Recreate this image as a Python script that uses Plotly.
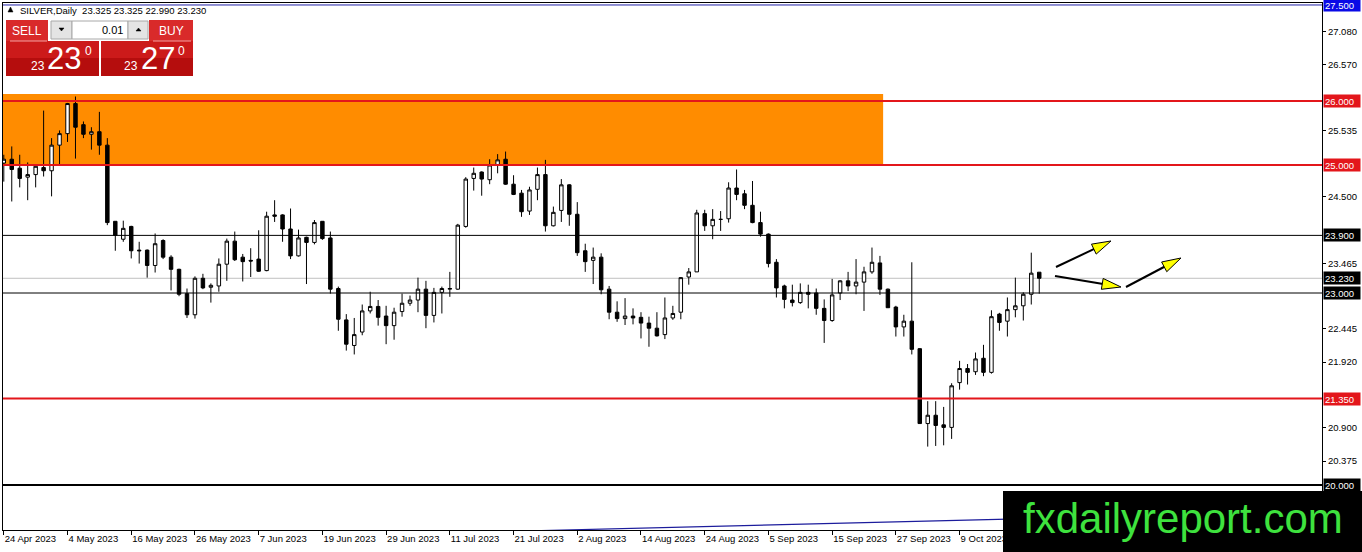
import pandas as pd
import plotly.graph_objects as go

# daily bars, 24 Apr 2023 .. 23 Oct 2023 (weekdays)
dates = [d.strftime("%Y-%m-%d") for d in pd.bdate_range("2023-04-24", periods=131)]

opens = [25.03, 25.09, 24.95, 24.81, 24.85, 24.96, 24.91, 25.31, 25.49, 25.96,
         25.63, 25.48, 25.52, 25.31, 24.12, 23.84, 24.04, 23.67, 23.67, 23.43,
         23.82, 23.56, 23.37, 22.99, 22.66, 23.23, 23.09, 23.11, 23.45, 23.81,
         23.56, 23.51, 23.53, 23.35, 24.22, 24.22, 24.00, 23.58, 23.87, 23.79,
         24.12, 23.86, 23.07, 22.58, 22.18, 22.39, 22.72, 22.79, 22.64, 22.49,
         22.71, 22.84, 22.89, 23.06, 22.65, 23.01, 23.06, 23.06, 24.04, 24.79,
         24.89, 24.77, 25.00, 25.09, 24.70, 24.56, 24.28, 24.62, 24.85, 24.05,
         24.29, 24.69, 24.23, 23.66, 23.51, 23.56, 23.06, 22.70, 22.60, 22.64,
         22.62, 22.53, 22.45, 22.35, 22.61, 22.70, 23.25, 23.33, 24.24, 24.05,
         24.15, 24.16, 24.64, 24.55, 24.37, 24.10, 23.92, 23.48, 23.11, 22.89,
         22.85, 23.01, 23.00, 22.76, 22.57, 23.00, 23.19, 23.11, 23.17, 23.33,
         23.47, 23.06, 22.78, 22.47, 22.56, 22.13, 20.96, 21.09, 20.94, 20.90,
         21.60, 21.82, 21.77, 21.98, 21.76, 22.67, 22.56, 22.74, 22.80, 22.98,
         23.325]
highs = [25.16, 25.29, 25.16, 25.04, 24.99, 25.85, 25.42, 25.54, 25.97, 26.07,
         25.68, 25.59, 25.83, 25.42, 24.12, 24.13, 24.05, 23.80, 23.68, 23.93,
         23.84, 23.59, 23.38, 23.07, 23.26, 23.30, 23.15, 23.54, 23.85, 23.96,
         23.61, 23.70, 23.98, 24.27, 24.45, 24.23, 24.32, 23.99, 23.88, 24.14,
         24.12, 23.96, 23.10, 22.67, 22.61, 22.82, 23.02, 22.89, 22.80, 22.77,
         22.99, 22.96, 23.24, 23.19, 23.08, 23.10, 23.33, 24.08, 24.81, 24.96,
         24.90, 25.09, 25.17, 25.21, 24.84, 24.61, 24.66, 24.96, 25.08, 24.35,
         24.78, 24.70, 24.42, 23.77, 23.71, 23.62, 23.11, 22.87, 22.92, 22.76,
         22.70, 22.63, 22.70, 22.93, 22.80, 23.25, 23.39, 24.30, 24.30, 24.31,
         24.28, 24.73, 24.93, 24.61, 24.75, 24.27, 23.93, 23.53, 23.13, 23.13,
         23.15, 23.13, 23.07, 22.90, 23.22, 23.20, 23.33, 23.53, 23.41, 23.71,
         23.58, 23.07, 22.80, 22.66, 23.48, 22.14, 21.31, 21.31, 21.22, 21.59,
         21.94, 21.89, 22.07, 22.19, 22.73, 22.69, 22.93, 23.24, 23.01, 23.63,
         23.325]
lows = [24.74, 24.43, 24.65, 24.45, 24.65, 24.82, 24.51, 25.00, 25.36, 25.10,
        25.42, 25.24, 25.16, 24.06, 23.66, 23.80, 23.54, 23.46, 23.24, 23.32,
        23.53, 23.04, 22.95, 22.61, 22.60, 23.06, 22.85, 23.02, 23.19, 23.50,
        23.18, 23.25, 23.33, 23.34, 24.11, 23.80, 23.53, 23.57, 23.14, 23.76,
        23.83, 22.99, 22.41, 22.10, 22.04, 22.34, 22.68, 22.49, 22.20, 22.27,
        22.63, 22.80, 22.70, 22.45, 22.54, 22.68, 22.94, 23.05, 24.02, 24.60,
        24.52, 24.70, 24.87, 24.69, 24.53, 24.19, 24.22, 24.45, 23.96, 24.04,
        24.11, 24.05, 23.58, 23.33, 23.14, 22.98, 22.59, 22.55, 22.50, 22.51,
        22.29, 22.16, 22.32, 22.28, 22.58, 22.59, 23.13, 23.33, 23.97, 23.84,
        23.97, 24.10, 24.45, 24.31, 24.09, 23.88, 23.40, 22.93, 22.76, 22.79,
        22.83, 22.76, 22.66, 22.22, 22.55, 22.89, 23.03, 22.98, 22.72, 23.30,
        22.97, 22.77, 22.32, 22.32, 22.04, 20.96, 20.60, 20.61, 20.62, 20.72,
        21.49, 21.57, 21.72, 21.70, 21.74, 22.41, 22.32, 22.62, 22.57, 22.82,
        22.99]
closes = [25.09, 24.93, 24.79, 24.85, 24.98, 24.91, 25.31, 25.49, 25.96, 25.59,
          25.48, 25.52, 25.31, 24.10, 23.90, 24.01, 23.66, 23.66, 23.43, 23.77,
          23.56, 23.37, 22.98, 22.66, 23.23, 23.08, 23.12, 23.45, 23.81, 23.52,
          23.49, 23.50, 23.34, 24.20, 24.20, 24.00, 23.58, 23.86, 23.79, 24.10,
          23.85, 23.06, 22.59, 22.20, 22.35, 22.72, 22.79, 22.62, 22.49, 22.70,
          22.84, 22.89, 23.06, 22.65, 23.01, 23.07, 23.07, 24.06, 24.78, 24.87,
          24.78, 25.00, 25.08, 24.70, 24.54, 24.27, 24.61, 24.85, 24.05, 24.26,
          24.69, 24.23, 23.63, 23.49, 23.56, 23.05, 22.70, 22.60, 22.64, 22.61,
          22.53, 22.45, 22.33, 22.61, 22.68, 23.24, 23.33, 24.25, 24.05, 24.15,
          24.15, 24.64, 24.54, 24.37, 24.10, 23.92, 23.46, 23.08, 22.90, 22.85,
          23.01, 22.98, 22.76, 22.57, 22.97, 23.19, 23.11, 23.17, 23.33, 23.48,
          23.06, 22.77, 22.47, 22.56, 22.12, 20.96, 21.09, 20.93, 20.90, 21.55,
          21.82, 21.76, 21.97, 21.76, 22.63, 22.54, 22.74, 22.80, 22.98, 23.31,
          23.23]

# slow indicator line near the bottom edge (first / last bar)
ma_dates = [dates[0], dates[-1]]
ma_values = [19.08, 19.48]

tick_dates = dates[0:121:8]
tick_labels = ["24 Apr 2023", "4 May 2023", "16 May 2023", "26 May 2023", "7 Jun 2023",
               "19 Jun 2023", "29 Jun 2023", "11 Jul 2023", "21 Jul 2023", "2 Aug 2023",
               "14 Aug 2023", "24 Aug 2023", "5 Sep 2023", "15 Sep 2023", "27 Sep 2023",
               "9 Oct 2023"]
price_ticks = [27.080, 26.570, 25.535, 24.500, 23.465, 22.445,
               21.920, 20.900, 20.375]

red_levels = [26.0, 25.0, 21.35]
black_levels = [23.9, 23.0]
top_level = 27.5
bottom_level = 20.0
bid = closes[-1]
zone_top, zone_bottom, zone_end = 26.11, 25.0, 110.4

RED = "#e3161b"
FONT = "Liberation Sans"

# pixel frame of the plot area, used for overlay drawings
L, R, T, B = 3, 1322, 3, 530


def fx(x):
    return (x - L) / (R - L)


def fy(y):
    return (B - y) / (B - T)


fig = go.Figure()
fig.add_trace(go.Candlestick(
    x=dates, open=opens, high=highs, low=lows, close=closes,
    increasing=dict(line=dict(color="black", width=1), fillcolor="white"),
    decreasing=dict(line=dict(color="black", width=1), fillcolor="black"),
    whiskerwidth=0, hoverinfo="skip", showlegend=False))
fig.add_trace(go.Scatter(x=ma_dates, y=ma_values, mode="lines",
                         line=dict(color="#1c1c9c", width=1.2),
                         hoverinfo="skip", showlegend=False, cliponaxis=True))

shapes = []
# orange zone (behind candles)
shapes.append(dict(type="rect", xref="x", yref="y", x0=-5, x1=zone_end,
                   y0=zone_bottom, y1=zone_top, fillcolor="#ff8c00",
                   line=dict(width=0), layer="below"))
# bid line
shapes.append(dict(type="line", xref="paper", yref="y", x0=0, x1=1, y0=bid, y1=bid,
                   line=dict(color="#c0c0c0", width=1), layer="below"))


def hline(level, color, width):
    shapes.append(dict(type="line", xref="paper", yref="y", x0=0, x1=1,
                       y0=level, y1=level, line=dict(color=color, width=width)))


for lv in red_levels:
    hline(lv, RED, 2)
for lv in black_levels:
    hline(lv, "black", 1)
hline(top_level, "#2222a8", 1)
hline(bottom_level, "black", 2)


def rect(x0, y0, x1, y1, fill, line_color=None):
    shapes.append(dict(type="rect", xref="paper", yref="paper",
                       x0=fx(x0), x1=fx(x1), y0=fy(y1), y1=fy(y0), fillcolor=fill,
                       line=dict(color=line_color or fill, width=1 if line_color else 0),
                       layer="above"))


def poly(points, fill, line_color="black", width=1):
    path = "M " + " L ".join(f"{fx(x):.5f},{fy(y):.5f}" for x, y in points) + " Z"
    shapes.append(dict(type="path", xref="paper", yref="paper", path=path,
                       fillcolor=fill, line=dict(color=line_color, width=width),
                       layer="above"))


def arrow(x0, y0, x1, y1):
    dx, dy = x1 - x0, y1 - y0
    n = (dx * dx + dy * dy) ** 0.5
    ux, uy = dx / n, dy / n
    bx, by = x1 - 19 * ux, y1 - 19 * uy
    shapes.append(dict(type="line", xref="paper", yref="paper",
                       x0=fx(x0), y0=fy(y0), x1=fx(bx + 4 * ux), y1=fy(by + 4 * uy),
                       line=dict(color="black", width=2), layer="above"))
    poly([(x1, y1), (bx - 5.5 * uy, by + 5.5 * ux), (bx + 5.5 * uy, by - 5.5 * ux)],
         "#ffff00")


arrow(1056, 267, 1111, 241)
arrow(1055, 276, 1121, 287)
arrow(1126, 287, 1181, 258)

# trade panel, top left
poly([(8, 12), (13, 12), (10.5, 7)], "black", "black", 0.5)
rect(6, 20, 48, 41, "#d92a2a")
rect(6, 41, 99, 58, "#cc1a1a")
rect(6, 58, 99, 76, "#b50d0d")
rect(149, 20, 193, 41, "#d92a2a")
rect(101, 41, 193, 58, "#cc1a1a")
rect(101, 58, 193, 76, "#b50d0d")
shapes.append(dict(type="line", xref="paper", yref="paper", x0=fx(10), x1=fx(47),
                   y0=fy(41), y1=fy(41), line=dict(color="#f3a0a0", width=1), layer="above"))
shapes.append(dict(type="line", xref="paper", yref="paper", x0=fx(153), x1=fx(191),
                   y0=fy(41), y1=fy(41), line=dict(color="#f3a0a0", width=1), layer="above"))
rect(51, 21, 72, 39, "#e4e4e4", "#a8a8a8")
rect(72, 21, 128, 39, "white", "#a8a8a8")
rect(128, 21, 148, 39, "#e4e4e4", "#a8a8a8")
poly([(59, 28), (64, 28), (61.5, 31)], "black", "black", 0.5)
poly([(136, 31), (141, 31), (138.5, 28)], "black", "black", 0.5)

# logo box, bottom right
rect(1003, 491, 1370, 560, "black")

fig.update_layout(shapes=shapes)

ann = []


def text(x, y, s, size, color="black", anchor="center"):
    ann.append(dict(x=fx(x), y=fy(y), xref="paper", yref="paper", text=s,
                    showarrow=False, xanchor=anchor, yanchor="middle",
                    font=dict(family=FONT, size=size, color=color)))


o, h, l, c = opens[-1], highs[-1], lows[-1], closes[-1]
text(18, 10, f"SILVER,Daily  {o:.3f} {h:.3f} {l:.3f} {c:.3f}", 9.5, anchor="left")
text(27, 31, "SELL", 12, "white")
text(171, 31, "BUY", 12, "white")
text(125, 30, "0.01", 11, anchor="right")
text(38, 66, "23", 12, "white")
text(64, 59, "23", 31, "white")
text(88, 51, "0", 12, "white")
text(131, 66, "23", 12, "white")
text(158, 59, "27", 31, "white")
text(181, 51, "0", 12, "white")
text(1183, 518, "fxdailyreport.com", 42, "#3ee23e")


def price_label(level, bg):
    ann.append(dict(x=1, xref="paper", y=level, yref="y", text=f"{level:.3f}",
                    showarrow=False, xanchor="left", yanchor="middle", xshift=1,
                    bgcolor=bg, borderpad=1, width=34, height=10, align="left",
                    font=dict(family=FONT, size=9.5, color="white")))


for lv in red_levels:
    price_label(lv, RED)
for lv in black_levels:
    price_label(lv, "black")
price_label(bid, "black")
price_label(bottom_level, "black")
price_label(top_level, "#0a0ae6")

fig.update_layout(
    annotations=ann,
    width=1362, height=552,
    margin=dict(l=L, r=1362 - R, t=T, b=552 - B, autoexpand=False),
    paper_bgcolor="white", plot_bgcolor="white",
    boxgap=0.38,
    font=dict(family=FONT, size=9.5, color="black"),
    xaxis=dict(type="category", range=[-0.1, 165.5], tickvals=tick_dates,
               ticktext=tick_labels, ticks="outside", ticklen=4, tickcolor="black",
               tickangle=0, ticklabelposition="outside right",
               showgrid=False, zeroline=False,
               showline=True, linecolor="black", linewidth=1, mirror=True,
               rangeslider=dict(visible=False), fixedrange=True, automargin=False,
               tickfont=dict(family=FONT, size=9.5)),
    yaxis=dict(side="right", range=[19.297, 27.531], tickvals=price_ticks,
               ticktext=[f"{v:.3f}" for v in price_ticks], ticks="outside",
               ticklen=3, tickcolor="black", showgrid=False, zeroline=False,
               showline=True, linecolor="black", linewidth=1, mirror=True,
               fixedrange=True, automargin=False,
               tickfont=dict(family=FONT, size=9.5)),
)

fig.write_html("out.html", config={"displayModeBar": False},
               post_script="document.body.style.margin='0';"
                           "document.body.style.overflow='hidden';")
